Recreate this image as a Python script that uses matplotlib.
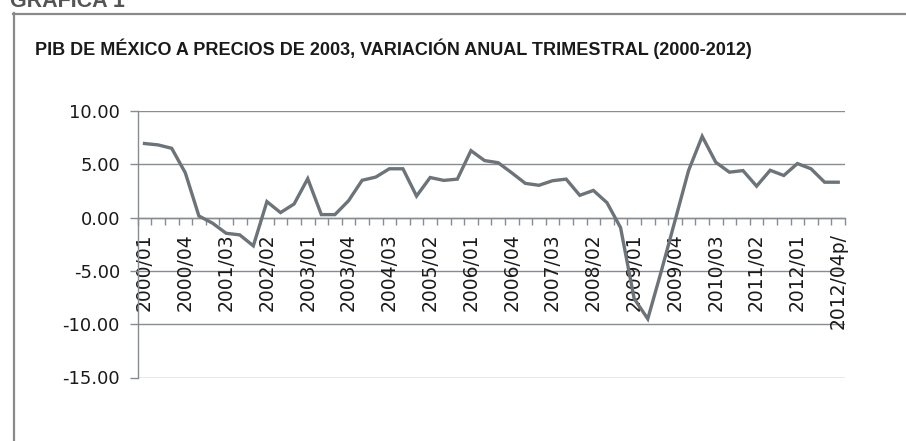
import matplotlib
matplotlib.use("Agg")
import matplotlib.pyplot as plt
from matplotlib.lines import Line2D
import numpy as np

# ---- data ----
title = "PIB DE MÉXICO A PRECIOS DE 2003, VARIACIÓN ANUAL TRIMESTRAL (2000-2012)"
header = "GRAFICA 1"

tick_labels = ["2000/01", "2000/04", "2001/03", "2002/02", "2003/01", "2003/04",
               "2004/03", "2005/02", "2006/01", "2006/04", "2007/03", "2008/02",
               "2009/01", "2009/04", "2010/03", "2011/02", "2012/01", "2012/04p/"]

pib_var = [6.95, 6.82, 6.50, 4.20, 0.15, -0.52, -1.47, -1.62, -2.65, 1.50,
           0.47, 1.28, 3.65, 0.28, 0.28, 1.58, 3.50, 3.80, 4.58, 4.58,
           2.02, 3.76, 3.49, 3.61, 6.28, 5.35, 5.15, 4.20, 3.21, 3.03,
           3.46, 3.61, 2.09, 2.55, 1.40, -0.94, -7.60, -9.50, -5.00, -0.30,
           4.42, 7.62, 5.19, 4.26, 4.41, 2.95, 4.44, 3.95, 5.07, 4.58,
           3.32, 3.32]

yticks = [-15, -10, -5, 0, 5, 10]

# ---- styling ----
GRID = "#868c91"
LINE = "#6c7379"
TXT = "#1a1a1a"

fig = plt.figure(figsize=(9.06, 4.41), dpi=100)
fig.patch.set_facecolor("white")

# frame lines
fig.add_artist(Line2D([12.7 / 906, 1.0], [1 - 13.7 / 441, 1 - 13.7 / 441],
                      color="#8a8a8a", lw=1.6, transform=fig.transFigure))
fig.add_artist(Line2D([13.7 / 906, 13.7 / 906], [1 - 12.7 / 441, 0.0],
                      color="#8a8a8a", lw=1.6, transform=fig.transFigure))

fig.text(10 / 906, 1 - 7 / 441, header, fontsize=15.5, fontweight="bold",
         family=["Liberation Sans", "DejaVu Sans"], color="#555555",
         ha="left", va="baseline")
fig.text(35 / 906, 1 - 55 / 441, title, fontsize=13.0, fontweight="bold",
         family=["Liberation Sans", "DejaVu Sans"], color=TXT,
         ha="left", va="baseline")

ax = fig.add_axes([137.7 / 906, 1 - 377.5 / 441, (845 - 137.7) / 906, (377.5 - 111) / 441])
x = np.arange(len(pib_var))

for yv in yticks:
    ax.axhline(yv, color=GRID, lw=1.0, zorder=1, snap=True)

ax.plot(x, pib_var, color=LINE, lw=2.4, solid_joinstyle="miter", zorder=3)

ax.set_xlim(-0.5, len(pib_var) - 0.5)
ax.set_ylim(-15, 10)

for s in ("top", "right"):
    ax.spines[s].set_visible(False)
ax.spines["left"].set_color(GRID)
ax.spines["left"].set_linewidth(1.0)
ax.spines["bottom"].set_position(("data", 0))
ax.spines["bottom"].set_color(GRID)
ax.spines["bottom"].set_linewidth(1.0)

ax.set_yticks(yticks)
ax.set_yticklabels([f"{v:.2f}" for v in yticks],
                   fontsize=13, color=TXT, family="DejaVu Sans")
ax.tick_params(axis="y", length=5.8, width=1.0, color=GRID, pad=7)

label_pos = x[::3]
ax.set_xticks(label_pos)
ax.set_xticklabels(tick_labels, rotation=90, fontsize=13.5, color=TXT,
                   family="DejaVu Sans", va="top", ha="center")
ax.set_xticks(np.arange(-0.5, len(pib_var), 1.0), minor=True)
ax.tick_params(axis="x", which="major", length=0, pad=11)
ax.tick_params(axis="x", which="minor", length=5, width=1.0, color=GRID,
               direction="out")

fig.savefig("out.png", dpi=100, facecolor="white")
